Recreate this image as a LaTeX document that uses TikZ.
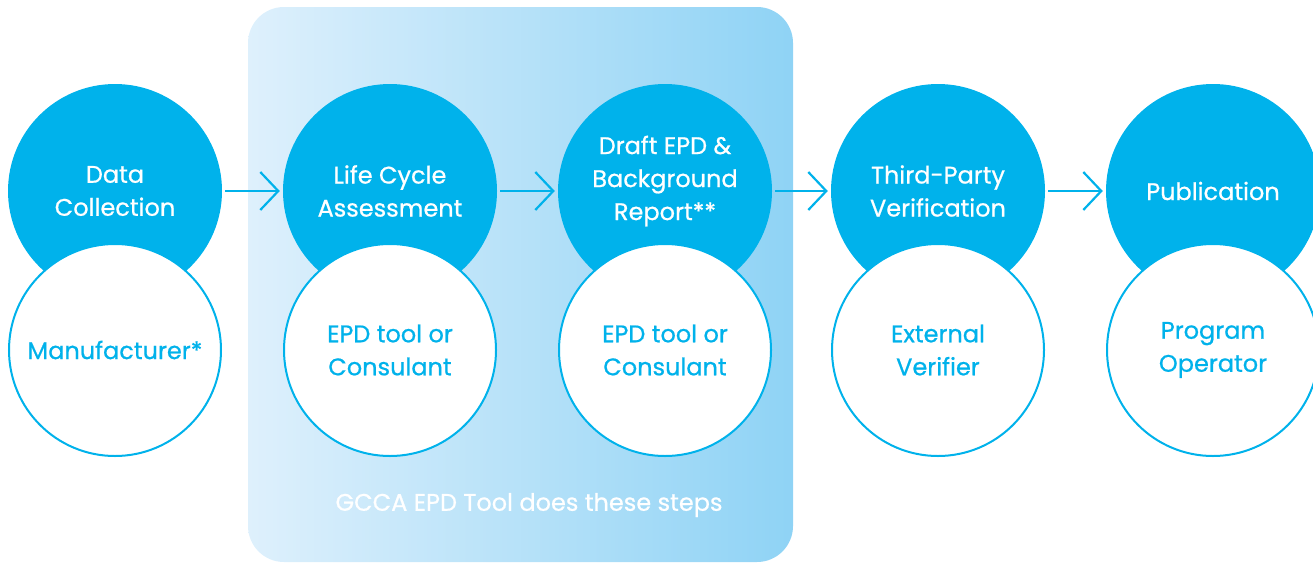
\documentclass[tikz,border=0pt]{standalone}
\usepackage{fontspec}
\setmainfont[FakeBold=0.7]{Poppins}
\usetikzlibrary{arrows.meta}
\definecolor{epdblue}{RGB}{0,178,235}
\definecolor{bgleft}{RGB}{222,240,252}
\definecolor{bgright}{RGB}{143,211,245}
\tikzset{
  topcirc/.style={circle, fill=epdblue, minimum size=214pt, inner sep=0pt},
  botcirc/.style={circle, fill=white, draw=epdblue, line width=2pt, minimum size=212pt, inner sep=0pt, text=epdblue, align=center, font=\fontsize{24}{33}\selectfont},
  toplabel/.style={text=white, align=center, font=\fontsize{24}{33}\selectfont},
  flow/.style={draw=epdblue, line width=2.2pt, -{Straight Barb[length=18pt,width=38pt]}, shorten <=3pt, shorten >=3pt}
}
\begin{document}
\begin{tikzpicture}[x=1pt,y=-1pt]
\useasboundingbox (0,0) rectangle (1313,562);
\shade[left color=bgleft, right color=bgright, rounded corners=36pt] (248,7) rectangle (793,562);
\node[toplabel] (note) at (529,505) {GCCA EPD Tool does these steps};
\foreach \i/\x in {1/115,2/390,3/665,4/938,5/1213}{
  \node[topcirc] (t\i) at (\x,191) {};
}
\node[toplabel] (l1) at (115,191) {Data\\Collection};
\node[toplabel] (l2) at (390,191) {Life Cycle\\Assessment};
\node[toplabel] (l3) at (665,181) {Draft EPD \&\\Background\\Report**};
\node[toplabel] (l4) at (938,191) {Third-Party\\Verification};
\node[toplabel] (l5) at (1213,191) {Publication};
\node[botcirc] (b1) at (115,350) {Manufacturer*};
\node[botcirc] (b2) at (390,350) {EPD tool or\\Consulant};
\node[botcirc] (b3) at (665,350) {EPD tool or\\Consulant};
\node[botcirc] (b4) at (938,350) {External\\Verifier};
\node[botcirc] (b5) at (1213,350) {Program\\Operator};
\draw[flow] (t1.east) -- (t2.west);
\draw[flow] (t2.east) -- (t3.west);
\draw[flow] (t3.east) -- (t4.west);
\draw[flow] (t4.east) -- (t5.west);
\end{tikzpicture}
\end{document}
